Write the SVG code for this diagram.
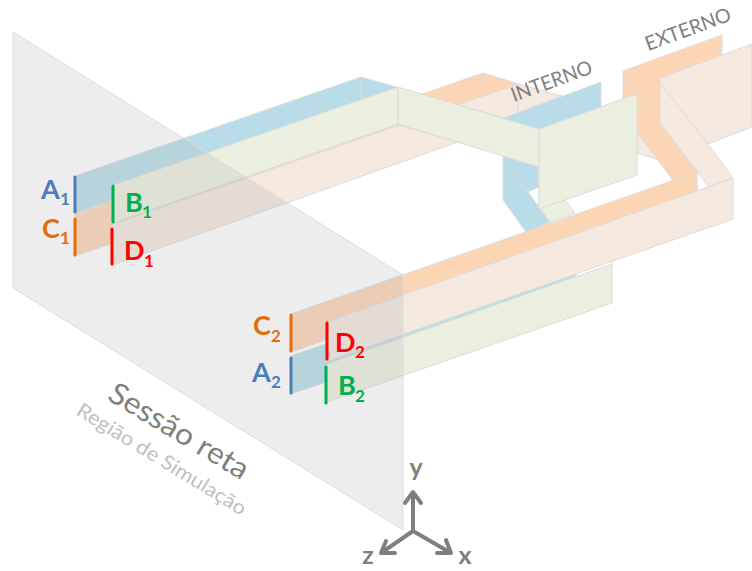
<svg xmlns="http://www.w3.org/2000/svg" width="752" height="571" viewBox="0 0 752 571">
<style>
polygon{stroke:#dcdcdc;stroke-width:1;stroke-linejoin:round}
.e{stroke:#dcdcdc;stroke-width:1;fill:none}
.o{fill:#fcd5b5}.p{fill:#f4e8df}.b{fill:#b9dde8}.g{fill:#ebefdf}
.bar{stroke-width:3;stroke-linecap:round;fill:none}
.lab{font-family:"Lato","Liberation Sans",sans-serif;font-weight:700;font-size:27px}
.sub{font-family:"Lato","Liberation Sans",sans-serif;font-weight:700;font-size:17px}
.cap{font-family:"Lato","Liberation Sans",sans-serif;fill:#7f7f7f}
.ax{font-family:"Lato","Liberation Sans",sans-serif;font-weight:700;font-size:25px;fill:#7f7f7f;text-anchor:middle}
.arrow{stroke:#7f7f7f;stroke-width:4;fill:none;stroke-linecap:round;stroke-linejoin:round}
</style>
<g id="externo-back">
<polygon class="p" points="637,132 659,160 637,153"/>
<polygon class="o" points="623,71 722,35 722,60 660,83 660,123 697,172 697,194 672,200 672,179 637,132 623,113"/>
<path class="e" d="M623,75L660,123"/>
<polygon class="p" points="660,78 752,44 752,127 708,144 733,178 709,187 660,123"/>
<path class="e" d="M660,83L708,144"/>
</g>
<g id="canal-C1">
<polygon class="o" points="75,214 483,73 519,84 519,100 483,115 75,256"/>
<path class="e" d="M483,73V96"/>
</g>
<g id="canal-D1">
<polygon class="p" points="112,224.5 518,84 562,96 504,118 458,142 112,265"/>
<path class="e" d="M518,84V112"/>
</g>
<g id="canal-A1">
<polygon class="b" points="75,176 361,77 504,118 601,82 601,120 503,155 361,114 75,213"/>
<polygon class="b" points="503,155 539,167 539,187 528,192 550,222 526,232 503,200"/>
<path class="e" d="M361,77V99M503,160L528,192"/>
</g>
<g id="canal-B1">
<polygon class="g" points="539,166 575,213 550,222 539,207"/>
<polygon class="g" points="113,185 398,87 398,124 113,223"/>
<polygon class="g" points="398,87 539,129 539,167 398,124"/>
<polygon class="g" points="539,129 637,94 637,175 539,209"/>
</g>
<g id="canal-A2">
<polygon class="b" points="291,356 576,257 576,296 291,394"/>
</g>
<g id="canal-B2">
<polygon class="g" points="327,364 612,264 612,303 327,402"/>
<path class="e" d="M612,262V266"/>
</g>
<g id="canal-C2">
<polygon class="o" points="291,314 697,172 697,210 291,352"/>
</g>
<g id="canal-D2">
<polygon class="p" points="327,322 733,178 733,219 327,361"/>
</g>
<g id="plano">
<polygon points="13,32 403,275 403,530 13,288" fill="#b4b4b4" fill-opacity="0.24" stroke="#d4d4d4"/>
</g>
<g id="marcadores">
<path class="bar" stroke="#4a7ebb" d="M75,177V212M291,358V393"/>
<path class="bar" stroke="#e46c0a" d="M75,219V255M291,315V351"/>
<path class="bar" stroke="#00b050" d="M113,186V222M326,367V403"/>
<path class="bar" stroke="#ff0000" d="M112,229V264M327,323V359"/>
</g>
<g id="rotulos">
<g fill="#4a7ebb"><text class="lab" x="41" y="199">A</text><text class="sub" x="60" y="205">1</text><text class="lab" x="252" y="382">A</text><text class="sub" x="271" y="388">2</text></g>
<g fill="#e46c0a"><text class="lab" x="42" y="238">C</text><text class="sub" x="60" y="244">1</text><text class="lab" x="253" y="335">C</text><text class="sub" x="271" y="342">2</text></g>
<g fill="#00b050"><text class="lab" x="125" y="212">B</text><text class="sub" x="142" y="218">1</text><text class="lab" x="338" y="395">B</text><text class="sub" x="355" y="402">2</text></g>
<g fill="#ff0000"><text class="lab" x="124" y="260">D</text><text class="sub" x="144" y="267">1</text><text class="lab" x="335" y="352">D</text><text class="sub" x="355" y="358">2</text></g>
<text class="cap" font-size="20" transform="translate(514,102) rotate(-20)" textLength="85" lengthAdjust="spacingAndGlyphs">INTERNO</text>
<text class="cap" font-size="20" transform="translate(648,51) rotate(-20)" textLength="90" lengthAdjust="spacingAndGlyphs">EXTERNO</text>
<text class="cap" font-size="30" transform="translate(106,399) rotate(31)" textLength="158" lengthAdjust="spacingAndGlyphs">Sessão reta</text>
<text class="cap" font-size="20" transform="translate(75,414) rotate(31.5)" textLength="195" lengthAdjust="spacingAndGlyphs" style="fill:#bfbfbf">Região de Simulação</text>
</g>
<g id="eixos">
<path class="arrow" d="M413,531V493M405,503L413,492L421,503"/>
<path class="arrow" d="M413,531L451,553M437,553L451,553L446,540"/>
<path class="arrow" d="M413,531L381,553M395,553L381,553L386,541"/>
<text class="ax" x="416" y="476">y</text>
<text class="ax" x="465" y="564">x</text>
<text class="ax" x="368" y="564">z</text>
</g>
</svg>
